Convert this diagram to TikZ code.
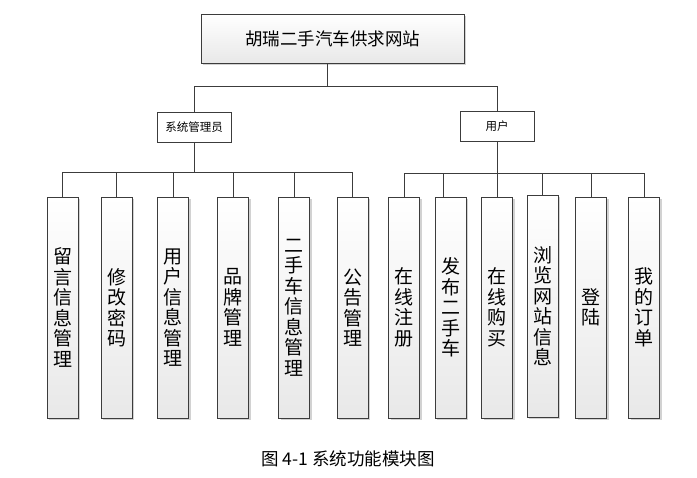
\documentclass[tikz,border=0pt]{standalone}
\usepackage{fontspec}
\newfontfamily\cjk{Noto Sans CJK SC}
\usetikzlibrary{shadows}
\definecolor{edge}{HTML}{3C3C3C}
\tikzset{
  boxbase/.style={draw=edge, line width=0.8pt, top color=white, bottom color=black!9,
    drop shadow={shadow xshift=2pt, shadow yshift=-2pt, fill=black!35},
    inner sep=0pt, align=center},
  titlebox/.style={boxbase, minimum width=263pt, minimum height=49pt,
    font=\cjk\fontsize{17.5}{20}\selectfont},
  headbox/.style={draw=edge, line width=0.8pt, fill=white, inner sep=0pt,
    minimum width=74pt, minimum height=30pt, font=\cjk\fontsize{11.5}{14}\selectfont},
  leafbox/.style={boxbase, minimum width=31pt, minimum height=221pt,
    font=\cjk\fontsize{19}{20.5}\selectfont},
  wire/.style={draw=edge, line width=0.8pt},
  captext/.style={font=\cjk\fontsize{17.5}{20}\selectfont, inner sep=0pt}
}
\begin{document}
\begin{tikzpicture}[x=1pt,y=-1pt]
\useasboundingbox[fill=white] (0,0) rectangle (697,478);

\node[titlebox] (top) at (332.5,38.5) {胡瑞二手汽车供求网站};

\node[headbox] (sys) at (194,127) {系统管理员};
\node[headbox] (usr) at (497,126) {用户};

\node[leafbox] (a1) at (62.5,307.5) {留\\言\\信\\息\\管\\理};
\node[leafbox] (a2) at (116.5,307.5) {修\\改\\密\\码};
\node[leafbox] (a3) at (173,307.5) {用\\户\\信\\息\\管\\理};
\node[leafbox] (a4) at (233,307.5) {品\\牌\\管\\理};
\node[leafbox] (a5) at (294,307.5) {二\\手\\车\\信\\息\\管\\理};
\node[leafbox] (a6) at (352.5,307.5) {公\\告\\管\\理};

\node[leafbox] (b1) at (404,307.5) {在\\线\\注\\册};
\node[leafbox] (b2) at (450.5,307.5) {发\\布\\二\\手\\车};
\node[leafbox] (b3) at (497,307.5) {在\\线\\购\\买};
\node[leafbox, minimum height=222pt] (b4) at (542.5,306) {浏\\览\\网\\站\\信\\息};
\node[leafbox] (b5) at (591,307.5) {登\\陆};
\node[leafbox] (b6) at (644,307.5) {我\\的\\订\\单};

\node[captext] (cap) at (348,459) {图 4-1 系统功能模块图};

% top connectors
\coordinate (j0) at (327,86);
\draw[wire] (top.south -| j0) -- (j0);
\draw[wire] (j0) -| (sys.north);
\draw[wire] (j0) -| (usr.north);

% admin connectors
\coordinate (jl) at (194,172);
\draw[wire] (sys.south) -- (jl);
\foreach \n in {a1,a2,a3,a4,a5,a6}{
  \draw[wire] (jl) -| (\n.north);
}

% user connectors
\coordinate (jr) at (497,173);
\draw[wire] (usr.south) -- (jr);
\foreach \n in {b1,b3,b4,b5,b6}{
  \draw[wire] (jr) -| (\n.north);
}
\draw[wire] (jr) -| ([xshift=-7pt]b2.north);
\end{tikzpicture}
\end{document}
